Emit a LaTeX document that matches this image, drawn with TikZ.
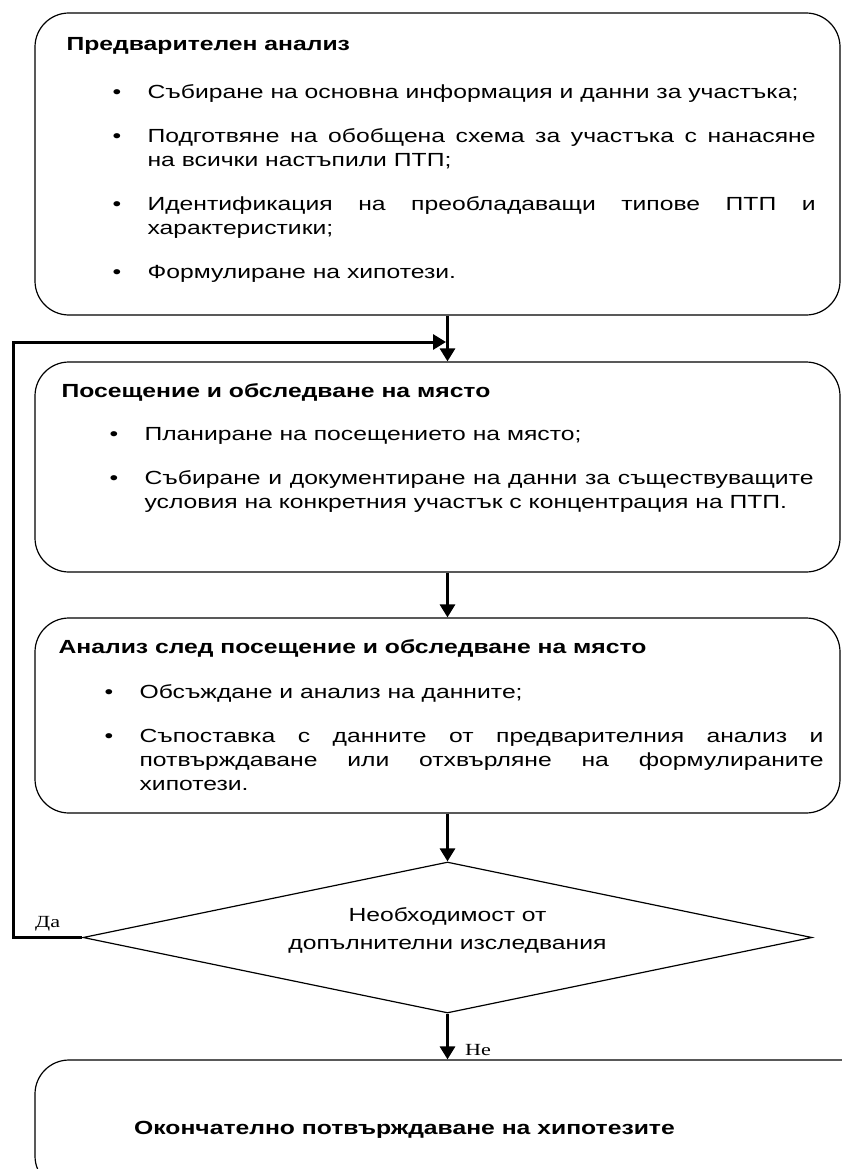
\documentclass[tikz,border=0pt]{standalone}
\usepackage{fontspec}
\setmainfont{Liberation Sans}[FakeStretch=1.3]
\newfontfamily\answerfont{Liberation Serif}[FakeStretch=1.3]
\usetikzlibrary{arrows.meta, shapes.geometric, positioning}

\newcommand{\bitem}[1]{\par\noindent\hangindent=35pt\hangafter=1\makebox[35pt][l]{\textbullet}#1\par}
\newcommand{\itemgap}{\vspace{20pt}}
\tolerance=9999

\begin{document}
\begin{tikzpicture}[x=1pt,y=-1pt,
  stage/.style={draw,line width=1.2pt,rounded corners=34pt,minimum width=805pt,inner sep=0pt},
  head/.style={anchor=base west,inner sep=0pt,font=\fontsize{19pt}{24pt}\selectfont\bfseries},
  bullets/.style={anchor=north west,inner sep=0pt,text width=#1,align=justify,
    font=\fontsize{19pt}{24pt}\selectfont},
  flow/.style={line width=3pt,-{Triangle[length=13pt,width=15pt]}},
  answer/.style={anchor=base west,inner sep=0pt,font=\answerfont\fontsize{17pt}{20pt}\selectfont}]
\useasboundingbox (0,0) rectangle (842,1169);
\clip (0,0) rectangle (842,1169);

% stages
\node[stage,minimum height=302pt] (pre) at (437.5,164) {};
\node[head] (pretitle) at ([shift={(32,38)}]pre.north west) {Предварителен анализ};
\node[bullets=703pt] (prelist) at ([shift={(78,62)}]pre.north west) {%
  \bitem{Събиране на основна информация и данни за участъка;}\itemgap
  \bitem{Подготвяне на обобщена схема за участъка с нанасяне \linebreak на всички настъпили ПТП;}\itemgap
  \bitem{Идентификация на преобладаващи типове ПТП и \linebreak характеристики;}\itemgap
  \bitem{Формулиране на хипотези.}};

\node[stage,minimum height=210pt] (visit) at (437.5,467) {};
\node[head] (visittitle) at ([shift={(27,36)}]visit.north west) {Посещение и обследване на място};
\node[bullets=704pt] (visitlist) at ([shift={(75,55)}]visit.north west) {%
  \bitem{Планиране на посещението на място;}\itemgap
  \bitem{Събиране и документиране на данни за съществуващите \linebreak условия на конкретния участък с концентрация на ПТП.}};

\node[stage,minimum height=195pt] (post) at (437.5,715.5) {};
\node[head] (posttitle) at ([shift={(24,36)}]post.north west) {Анализ след посещение и обследване на място};
\node[bullets=719pt] (postlist) at ([shift={(70,57)}]post.north west) {%
  \bitem{Обсъждане и анализ на данните;}\itemgap
  \bitem{Съпоставка с данните от предварителния анализ и \linebreak потвърждаване или отхвърляне на формулираните \linebreak хипотези.}};

% decision
\node[draw,diamond,line width=1.2pt,minimum width=729pt,minimum height=151pt,
  shape aspect=4.83,inner sep=0pt] (need) at (447.5,937.5) {};
\node[align=center,inner sep=0pt,font=\fontsize{19pt}{28pt}\selectfont] (needtext) at (447.5,930)
  {Необходимост от\\допълнителни изследвания};

\node[stage,minimum width=840pt,minimum height=130pt] (final) at (455,1125) {};
\node[head] (finaltext) at (134,1134) {Окончателно потвърждаване на хипотезите};

% connectors
\coordinate (merge) at (446,342);
\draw[flow] (pre.south -| need.north) -- (visit.north -| need.north);
\draw[flow] (visit.south -| need.north) -- (post.north -| need.north);
\draw[flow] (post.south -| need.north) -- (need.north);
\draw[flow] (need.south) -- (final.north -| need.south);
\draw[flow] (need.west) -- ++(-69,0) |- (merge);
\node[answer] (yes) at (35,927) {Да};
\node[answer] (no) at (465,1055) {Не};
\end{tikzpicture}
\end{document}
